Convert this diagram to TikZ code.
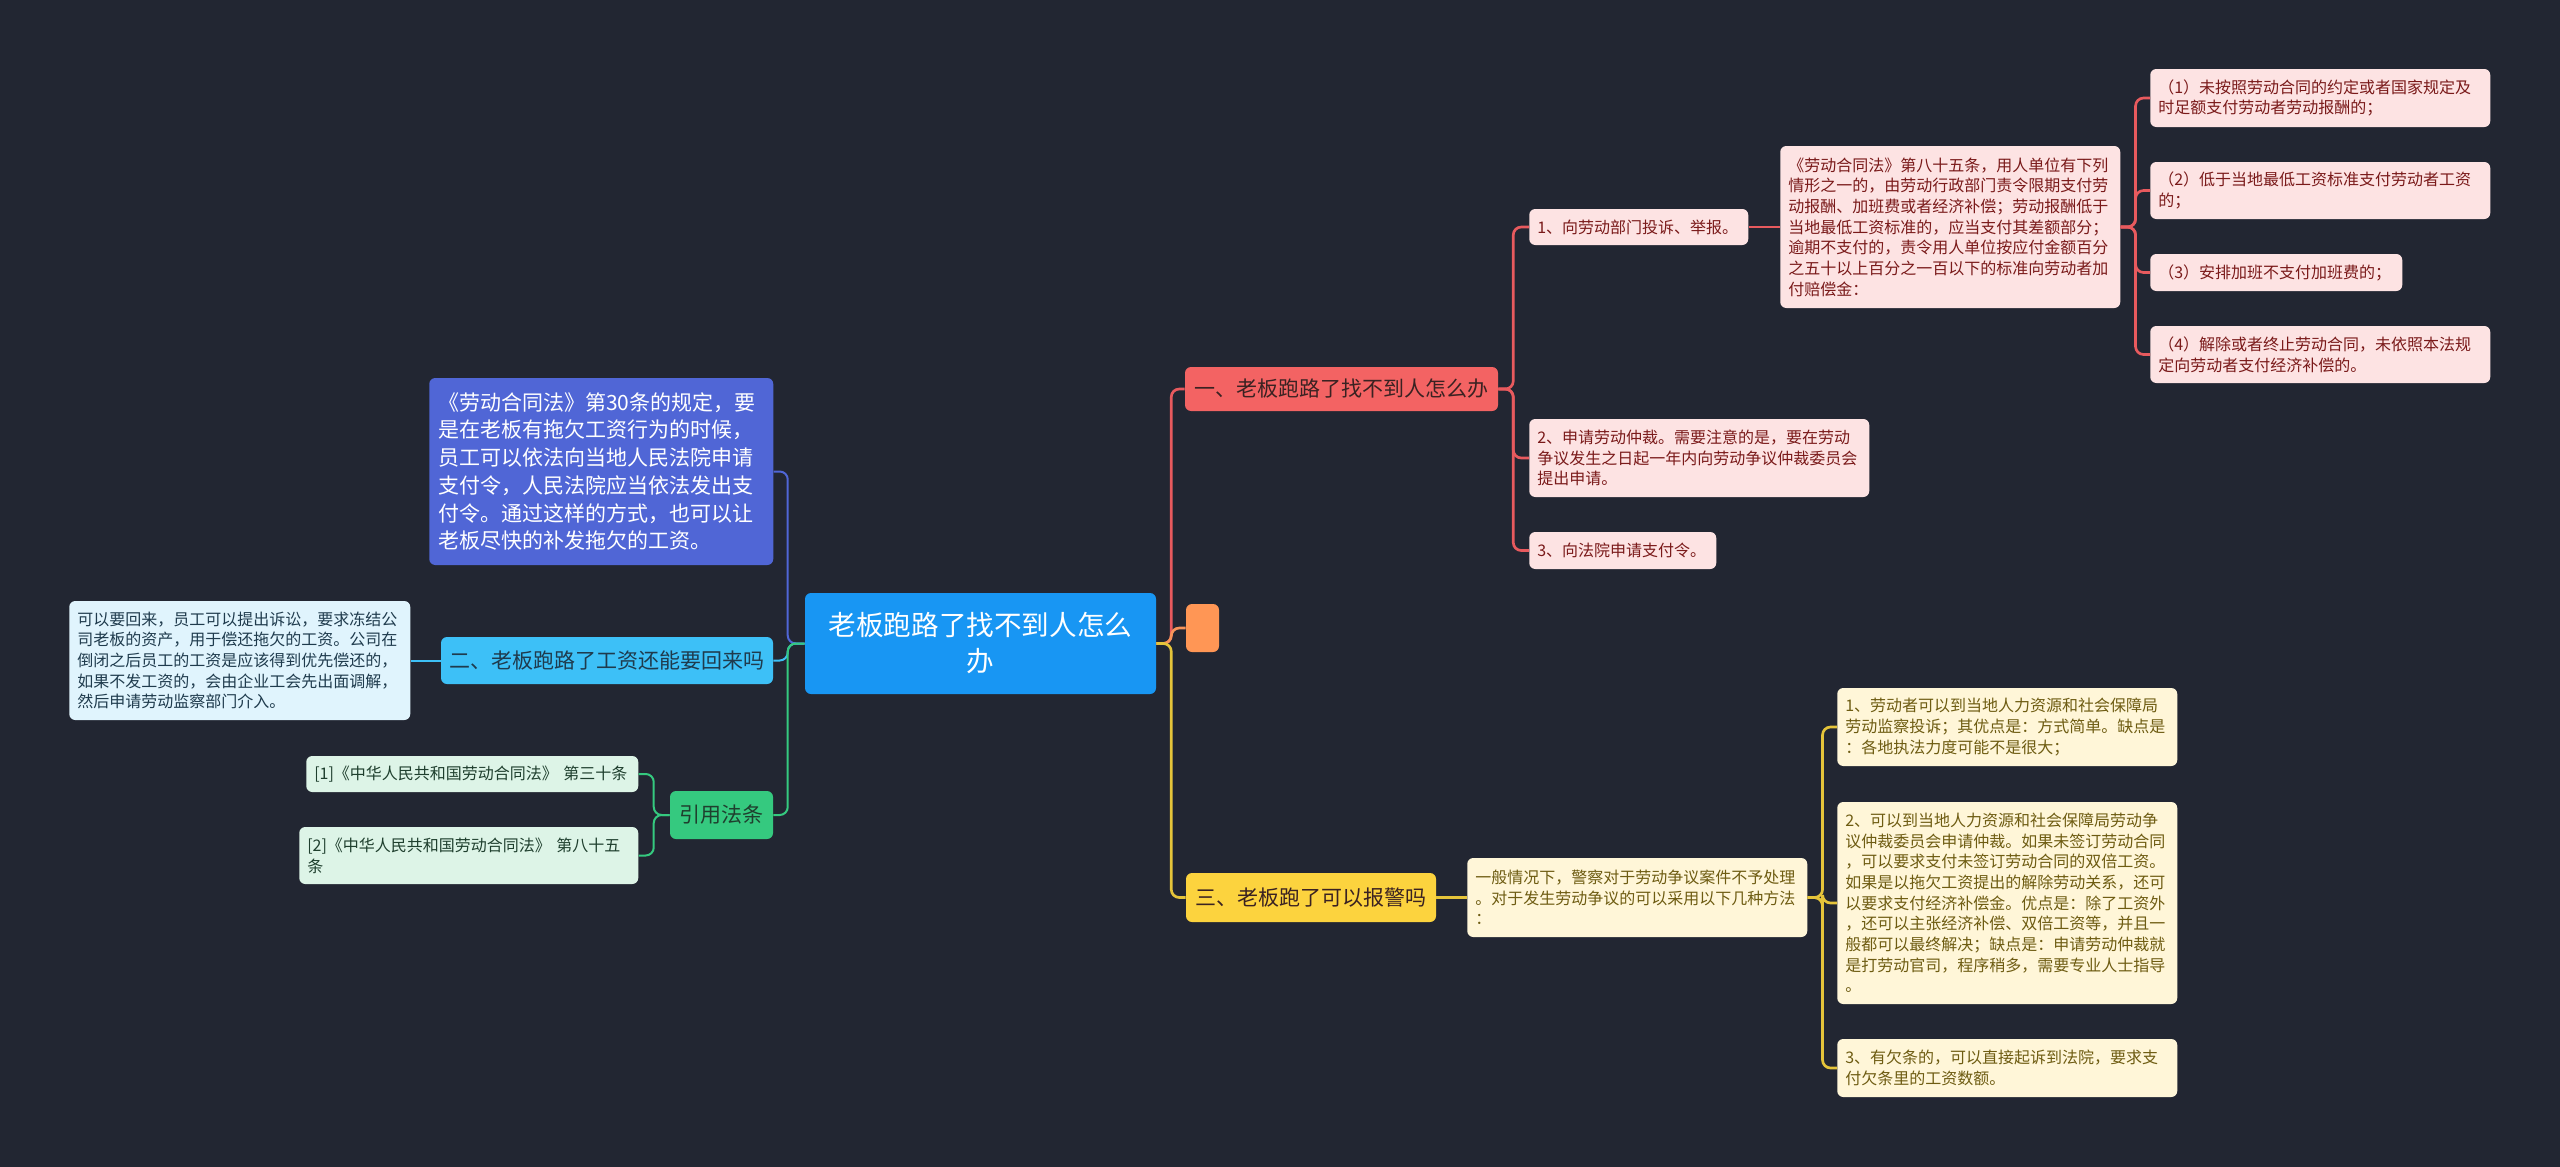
\documentclass[tikz,border=0pt]{standalone}
\usepackage{fontspec}
\setmainfont{Noto Sans CJK SC}
\usepackage{xcolor}
\usepackage{tikz}

\definecolor{bgdark}{HTML}{222632}
\definecolor{rootblue}{HTML}{1896F3}
\definecolor{topicred}{HTML}{F36363}
\definecolor{redleaf}{HTML}{FDE3E3}
\definecolor{redink}{HTML}{7A1A1A}
\definecolor{redline}{HTML}{E85A5E}
\definecolor{orangebox}{HTML}{FF9655}
\definecolor{orangeline}{HTML}{F7945A}
\definecolor{topicyellow}{HTML}{FCD33E}
\definecolor{yellowleaf}{HTML}{FFF6D8}
\definecolor{yellowink}{HTML}{6E5C12}
\definecolor{yellowline}{HTML}{E5C43A}
\definecolor{topicsky}{HTML}{3DC0F7}
\definecolor{skyleaf}{HTML}{E0F4FD}
\definecolor{skyink}{HTML}{1F3B4D}
\definecolor{topicpurple}{HTML}{5066D6}
\definecolor{topicgreen}{HTML}{35C97F}
\definecolor{greenleaf}{HTML}{DDF4E7}
\definecolor{greenink}{HTML}{1F3F2E}
\definecolor{topicink}{HTML}{3A2222}

\newcommand\rootfont{\fontsize{20.7}{27}\selectfont}
\newcommand\topicfont{\fontsize{15.75}{20.8}\selectfont}
\newcommand\leaffont{\fontsize{12}{15.5}\selectfont}

\tikzset{
  rootbox/.style={fill=rootblue, text=white, font=\rootfont, align=center, rounded corners=4.5pt, inner sep=0pt, minimum width=263.25pt, minimum height=75.75pt},
  topicbox/.style={font=\topicfont, align=center, rounded corners=4.5pt, inner sep=0pt, text=topicink},
  leafbox/.style={font=\leaffont, align=left, anchor=west, rounded corners=4.5pt, inner xsep=6pt, inner ysep=0pt},
  redleafbox/.style={leafbox, fill=redleaf, text=redink},
  yellowleafbox/.style={leafbox, fill=yellowleaf, text=yellowink},
  skyleafbox/.style={leafbox, fill=skyleaf, text=skyink},
  greenleafbox/.style={leafbox, fill=greenleaf, text=greenink},
  branch/.style={line width=2pt, rounded corners=6pt},
}

\begin{document}
\begin{tikzpicture}[x=0.75pt,y=0.75pt,yscale=-1,xscale=1]
\useasboundingbox (0,0) rectangle (2560,1167);
\fill [bgdark] (0,0) rectangle (2560,1167);

% Root
\node [rootbox] (root) at (980.5,643.5) {老板跑路了找不到人怎么\\办};

% Right topics
\node [topicbox, fill=topicred, minimum width=234.75pt, minimum height=33pt] (run) at (1341.5,389) {一、老板跑路了找不到人怎么办};
\node [topicbox, fill=orangebox, minimum width=24.75pt, minimum height=36pt] (blank) at (1202.5,628) {};
\node [topicbox, fill=topicyellow, minimum width=187.5pt, minimum height=36.75pt] (police) at (1311,897.5) {三、老板跑了可以报警吗};

% Left topics
\node [topicbox, fill=topicpurple, text=white, align=left, anchor=west, inner xsep=6.75pt, text width=244.5pt, minimum height=140.25pt] (art30) at (429,471.5) {《劳动合同法》第30条的规定，要\\是在老板有拖欠工资行为的时候，\\员工可以依法向当地人民法院申请\\支付令，人民法院应当依法发出支\\付令。通过这样的方式，也可以让\\老板尽快的补发拖欠的工资。};
\node [topicbox, fill=topicsky, text=skyink, minimum width=249pt, minimum height=35.25pt] (wage) at (607,660.5) {二、老板跑路了工资还能要回来吗};
\node [topicbox, fill=topicgreen, text=greenink, minimum width=77.25pt, minimum height=36pt] (cite) at (721.5,815) {引用法条};

% Left leaves
\node [skyleafbox, text width=243.75pt, minimum height=89.25pt] (wageans) at (69,660.5) {可以要回来，员工可以提出诉讼，要求冻结公\\司老板的资产，用于偿还拖欠的工资。公司在\\倒闭之后员工的工资是应该得到优先偿还的，\\如果不发工资的，会由企业工会先出面调解，\\然后申请劳动监察部门介入。};
\node [greenleafbox, text width=237pt, minimum height=27pt] (cite1) at (306,774) {[1]《中华人民共和国劳动合同法》 第三十条};
\node [greenleafbox, text width=242.25pt, minimum height=42.75pt] (cite2) at (299,855.5) {[2]《中华人民共和国劳动合同法》 第八十五\\条};

% Red leaves
\node [redleafbox, text width=152.25pt, minimum height=27pt] (way1) at (1529,227) {1、向劳动部门投诉、举报。};
\node [redleafbox, text width=243pt, minimum height=58.5pt] (way2) at (1529,458) {2、申请劳动仲裁。需要注意的是，要在劳动\\争议发生之日起一年内向劳动争议仲裁委员会\\提出申请。};
\node [redleafbox, text width=128.25pt, minimum height=27.75pt] (way3) at (1529,550.5) {3、向法院申请支付令。};
\node [redleafbox, text width=243pt, minimum height=121.5pt] (art85) at (1780,227) {《劳动合同法》第八十五条，用人单位有下列\\情形之一的，由劳动行政部门责令限期支付劳\\动报酬、加班费或者经济补偿；劳动报酬低于\\当地最低工资标准的，应当支付其差额部分；\\逾期不支付的，责令用人单位按应付金额百分\\之五十以上百分之一百以下的标准向劳动者加\\付赔偿金：};
\node [redleafbox, text width=243pt, minimum height=43.5pt] (case1) at (2150,98) {（1）未按照劳动合同的约定或者国家规定及\\时足额支付劳动者劳动报酬的；};
\node [redleafbox, text width=243pt, minimum height=42.75pt] (case2) at (2150,190.5) {（2）低于当地最低工资标准支付劳动者工资\\的；};
\node [redleafbox, text width=177pt, minimum height=27.75pt] (case3) at (2150,272.5) {（3）安排加班不支付加班费的；};
\node [redleafbox, text width=243pt, minimum height=42.75pt] (case4) at (2150,354.5) {（4）解除或者终止劳动合同，未依照本法规\\定向劳动者支付经济补偿的。};

% Yellow leaves
\node [yellowleafbox, text width=243pt, minimum height=59.25pt] (general) at (1467,897.5) {一般情况下，警察对于劳动争议案件不予处理\\。对于发生劳动争议的可以采用以下几种方法\\：};
\node [yellowleafbox, text width=243pt, minimum height=58.5pt] (opt1) at (1837,727) {1、劳动者可以到当地人力资源和社会保障局\\劳动监察投诉；其优点是：方式简单。缺点是\\：各地执法力度可能不是很大；};
\node [yellowleafbox, text width=243pt, minimum height=151.5pt] (opt2) at (1837,903) {2、可以到当地人力资源和社会保障局劳动争\\议仲裁委员会申请仲裁。如果未签订劳动合同\\，可以要求支付未签订劳动合同的双倍工资。\\如果是以拖欠工资提出的解除劳动关系，还可\\以要求支付经济补偿金。优点是：除了工资外\\，还可以主张经济补偿、双倍工资等，并且一\\般都可以最终解决；缺点是：申请劳动仲裁就\\是打劳动官司，程序稍多，需要专业人士指导\\。};
\node [yellowleafbox, text width=243pt, minimum height=43.5pt] (opt3) at (1837,1068) {3、有欠条的，可以直接起诉到法院，要求支\\付欠条里的工资数额。};

% Connectors, right side
\draw [branch, redline] (root.east) -- ++(15,0) |- (run.west);
\draw [branch, orangeline] (root.east) -- ++(15,0) |- (blank.west);
\draw [branch, yellowline] (root.east) -- ++(15,0) |- (police.west);
\draw [branch, redline] (run.east) -- ++(15,0) |- (way1.west);
\draw [branch, redline] (run.east) -- ++(15,0) |- (way2.west);
\draw [branch, redline] (run.east) -- ++(15,0) |- (way3.west);
\draw [branch, redline] (way1.east) -- (art85.west);
\foreach \c in {case1,case2,case3,case4}
  \draw [branch, redline] (art85.east) -- ++(15,0) |- (\c.west);
\draw [branch, yellowline] (police.east) -- (general.west);
\foreach \c in {opt1,opt2,opt3}
  \draw [branch, yellowline] (general.east) -- ++(15,0) |- (\c.west);

% Connectors, left side
\draw [branch, line width=1.5pt, topicpurple] (root.west) -- ++(-17,0) |- (art30.east);
\draw [branch, line width=1.5pt, topicsky] (root.west) -- ++(-17,0) |- (wage.east);
\draw [branch, line width=1.5pt, topicgreen] (root.west) -- ++(-17,0) |- (cite.east);
\draw [branch, line width=1.5pt, topicsky] (wage.west) -- (wageans.east);
\draw [branch, line width=1.5pt, topicgreen] (cite.west) -- ++(-16,0) |- (cite1.east);
\draw [branch, line width=1.5pt, topicgreen] (cite.west) -- ++(-16,0) |- (cite2.east);

\end{tikzpicture}
\end{document}
